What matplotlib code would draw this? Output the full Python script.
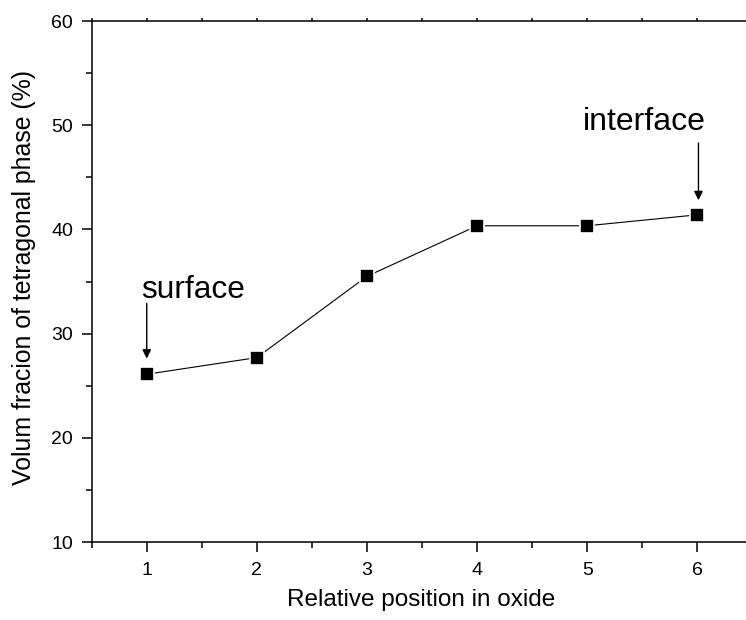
import matplotlib
matplotlib.use("Agg")
import matplotlib.pyplot as plt
from matplotlib.ticker import MultipleLocator

plt.rcParams['font.family'] = ['Liberation Sans', 'DejaVu Sans']

# data
position = [1, 2, 3, 4, 5, 6]
tetragonal = [26.1, 27.7, 35.5, 40.35, 40.35, 41.4]
xticks = [1, 2, 3, 4, 5, 6]
yticks = [10, 20, 30, 40, 50, 60]

fig = plt.figure(figsize=(7.46, 6.2), dpi=100)
# axes runs a little past the right edge of the picture, as in the original
ax = fig.add_axes([0.1229, 0.1258, 0.8857, 0.8403])

ax.plot(position, tetragonal, color='black', lw=0.8, marker='s', ms=9.5,
        mfc='black', mec='white', mew=1.2)

ax.set_xlim(0.5, 6.5)
ax.set_ylim(10, 60)
ax.set_xticks(xticks)
ax.set_yticks(yticks)
ax.xaxis.set_minor_locator(MultipleLocator(0.5))
ax.yaxis.set_minor_locator(MultipleLocator(5))

for s in ax.spines.values():
    s.set_linewidth(1.1)
ax.spines['right'].set_visible(False)

ax.tick_params(which='major', direction='out', length=7.5, width=1.1,
               labelsize=14, pad=6)
ax.tick_params(which='minor', direction='out', length=4, width=1.1)
ax.tick_params(axis='x', which='major', pad=7)
ax.tick_params(axis='x', which='both', top=True)
# small marks on the top spine
for t in ax.xaxis.get_major_ticks() + ax.xaxis.get_minor_ticks():
    t.tick2line.set_markersize(2)

ax.set_xlabel('Relative position in oxide', fontsize=17.5)
ax.set_ylabel('Volum fracion of tetragonal phase (%)', fontsize=17.9)
ax.xaxis.set_label_coords(0.498, -0.111)
ax.yaxis.set_label_coords(-0.103, 0.508)
ax.xaxis.label.set_va('center')
ax.yaxis.label.set_va('center')

arrow = dict(arrowstyle='-|>', color='black', lw=1, mutation_scale=13,
             shrinkA=0, shrinkB=0)
ax.annotate('', xy=(1, 27.6), xytext=(1, 32.9), arrowprops=arrow)
ax.text(0.945, 33.45, 'surface', fontsize=22.8, ha='left', va='baseline')
ax.annotate('', xy=(6.01, 42.8), xytext=(6.01, 48.3), arrowprops=arrow)
ax.text(4.963, 49.55, 'interface', fontsize=23, ha='left', va='baseline')

fig.savefig('out.png', dpi=100)
